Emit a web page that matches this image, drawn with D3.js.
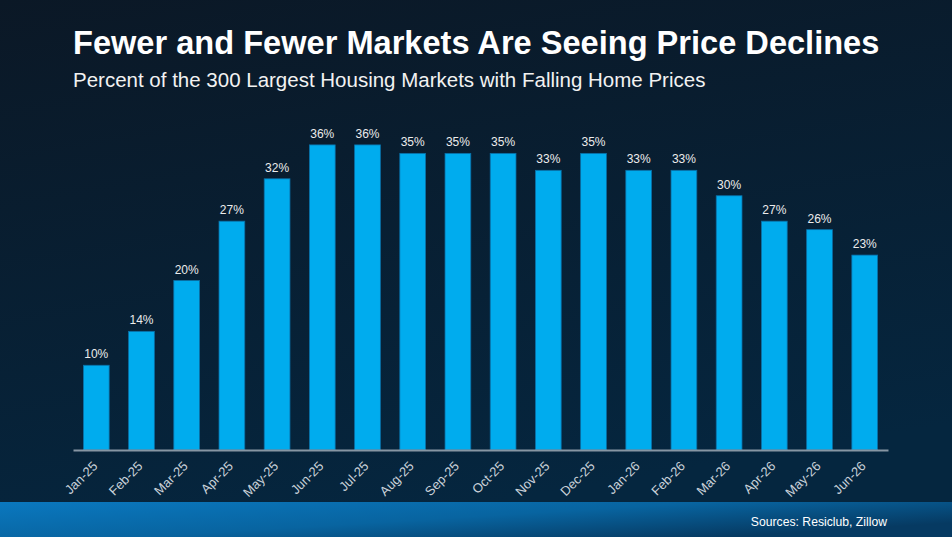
<!DOCTYPE html>
<html>
<head>
<meta charset="utf-8">
<script src="https://cdn.jsdelivr.net/npm/d3@7"></script>
<style>
  html, body { margin: 0; padding: 0; background: #0a1c2c; }
  svg { display: block; font-family: "Liberation Sans", Arial, sans-serif; }
</style>
</head>
<body>
<svg id="chart" width="952" height="537"></svg>
<script>
// data
const months = ["Jan-25", "Feb-25", "Mar-25", "Apr-25", "May-25", "Jun-25", "Jul-25", "Aug-25", "Sep-25",
  "Oct-25", "Nov-25", "Dec-25", "Jan-26", "Feb-26", "Mar-26", "Apr-26", "May-26", "Jun-26"];
const pctFalling = [10, 14, 20, 27, 32, 36, 36, 35, 35, 35, 33, 35, 33, 33, 30, 27, 26, 23];

const W = 952, H = 537;
const svg = d3.select("#chart");

// background
const defs = svg.append("defs");
const bg = defs.append("linearGradient").attr("id", "bg")
  .attr("x1", 0).attr("y1", 0).attr("x2", 0.3).attr("y2", 1);
bg.append("stop").attr("offset", "0%").attr("stop-color", "#0b1826");
bg.append("stop").attr("offset", "100%").attr("stop-color", "#05263f");
const band = defs.append("linearGradient").attr("id", "band")
  .attr("x1", 0).attr("y1", 0).attr("x2", 1).attr("y2", 0.6);
band.append("stop").attr("offset", "0%").attr("stop-color", "#0a78bf");
band.append("stop").attr("offset", "55%").attr("stop-color", "#0864a0");
band.append("stop").attr("offset", "100%").attr("stop-color", "#063a62");

svg.append("rect").attr("width", W).attr("height", H).attr("fill", "url(#bg)");
svg.append("rect").attr("x", 0).attr("y", 502).attr("width", W).attr("height", H - 502)
  .attr("fill", "url(#band)");

// titles
svg.append("text").attr("x", 73).attr("y", 53.5)
  .attr("fill", "#ffffff").attr("font-size", 32.6).attr("font-weight", "bold")
  .text("Fewer and Fewer Markets Are Seeing Price Declines");
svg.append("text").attr("x", 73).attr("y", 87)
  .attr("fill", "#f2f2f2").attr("font-size", 20.5)
  .text("Percent of the 300 Largest Housing Markets with Falling Home Prices");

svg.append("text").attr("x", 887).attr("y", 526).attr("text-anchor", "end")
  .attr("fill", "#ffffff").attr("font-size", 12.2)
  .text("Sources: Resiclub, Zillow");

// scales
const x = d3.scaleBand().domain(months).range([73, 888])
  .paddingInner(0.43).paddingOuter(0.23);
const y = d3.scaleLinear().domain([0, 40]).range([450, 111]);

// bars
svg.append("g").selectAll("rect").data(pctFalling).enter().append("rect")
  .attr("x", (d, i) => x(months[i]))
  .attr("y", d => y(d))
  .attr("width", x.bandwidth())
  .attr("height", d => y(0) - y(d))
  .attr("fill", "#00acee")
  .attr("stroke", "#0a6fa6")
  .attr("stroke-width", 0.8);

// value labels
svg.append("g").selectAll("text").data(pctFalling).enter().append("text")
  .attr("x", (d, i) => x(months[i]) + x.bandwidth() / 2)
  .attr("y", d => y(d) - 7)
  .attr("text-anchor", "middle")
  .attr("fill", "#ececec")
  .attr("font-size", 12)
  .text(d => d + "%");

// x axis
const xAxis = svg.append("g").attr("transform", "translate(0," + y(0) + ")")
  .call(d3.axisBottom(x).tickSize(0).tickPadding(0));
xAxis.select(".domain").attr("stroke", "#8796a3").attr("stroke-width", 2);
xAxis.selectAll("text")
  .attr("fill", "#c9d1d9")
  .attr("font-size", 13)
  .attr("text-anchor", "end")
  .attr("dy", 0)
  .attr("transform", "translate(2,17) rotate(-45)");
</script>
</body>
</html>
